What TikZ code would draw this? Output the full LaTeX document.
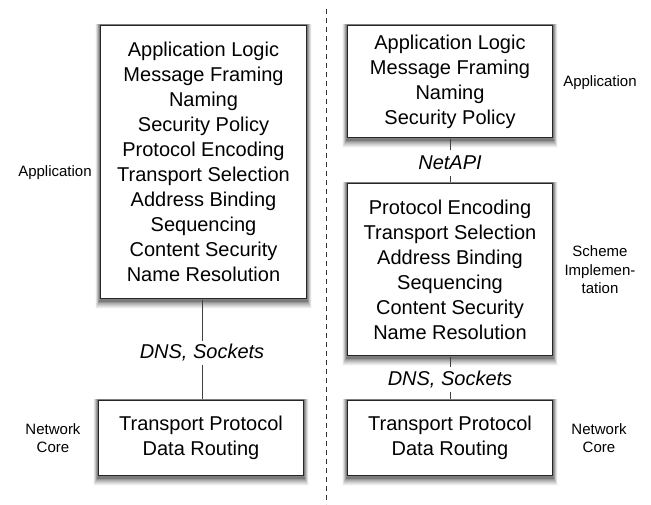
\documentclass[tikz,border=0pt]{standalone}
\usepackage{fontspec}
\setmainfont{Liberation Sans}
\usetikzlibrary{calc}

\tikzset{
  layerbox/.style={draw=black!85, line width=1.6pt, fill=white, align=center,
    inner sep=0pt, font=\fontsize{20}{25}\selectfont},
  sidelabel/.style={align=center, inner sep=0pt, font=\fontsize{15}{18.5}\selectfont},
  iface/.style={inner sep=0pt, minimum height=24pt, font=\fontsize{20}{24}\selectfont\itshape},
  link/.style={draw=black!75, line width=0.9pt},
  divider/.style={draw=black!80, line width=0.9pt, dash pattern=on 5pt off 4pt}
}

\begin{document}
\begin{tikzpicture}[x=1pt, y=-1pt]
  \useasboundingbox (0,0) rectangle (651,504);

  % vertical separator between the two stacks
  \coordinate (divtop) at (326,9);
  \coordinate (divbot) at (326,504);
  \path[divider] (divtop) -- (divbot);

  % left stack: monolithic application over the network core
  \node[layerbox, minimum width=207pt, minimum height=274pt] (lapp) at (203.5,162)
    {Application Logic\\Message Framing\\Naming\\Security Policy\\Protocol Encoding\\
     Transport Selection\\Address Binding\\Sequencing\\Content Security\\Name Resolution};
  \node[layerbox, minimum width=206pt, minimum height=76pt] (lcore) at (201,438)
    {Transport Protocol\\Data Routing};
  \node[iface] (ldns) at (202,353) {DNS, Sockets};

  \node[sidelabel] (lapplbl) at (55,173) {Application};
  \node[sidelabel] (lcorelbl) at (53,438) {Network\\Core};

  % right stack: application, scheme implementation, network core
  \node[layerbox, minimum width=206pt, minimum height=113pt] (rapp) at (450,81.5)
    {Application Logic\\Message Framing\\Naming\\Security Policy};
  \node[layerbox, minimum width=206pt, minimum height=173pt] (rscheme) at (450,269.5)
    {Protocol Encoding\\Transport Selection\\Address Binding\\Sequencing\\
     Content Security\\Name Resolution};
  \node[layerbox, minimum width=206pt, minimum height=76pt] (rcore) at (450,438)
    {Transport Protocol\\Data Routing};

  \node[iface, minimum height=26pt] (netapi) at (450,163) {NetAPI};
  \node[iface] (rdns) at (450,379.5) {DNS, Sockets};

  \node[sidelabel] (rapplbl) at (600,83) {Application};
  \node[sidelabel] (rschemelbl) at (600,270) {Scheme\\Implemen-\\tation};
  \node[sidelabel] (rcorelbl) at (599,438) {Network\\Core};

  % soft drop shadows: grey bands round the sides and bottom of each box,
  % kept outside its frame, lightest at the rim and darkest next to the box
  \foreach \n in {lapp,lcore,rapp,rscheme,rcore}{
    \foreach \k/\g in {8/6,7/10,6/15,5/21,4/28,3/35,2/43,1/52}{
      \fill[black!\g, even odd rule]
        ($(\n.north west)+(-0.5*\k+0.5,0)$) rectangle ($(\n.south east)+(0.5*\k-0.5,1+0.95*\k)$)
        (\n.north west) rectangle (\n.south east);
    }
  }

  % interfaces between the layers
  \path[link] (lapp.south -| ldns) -- (ldns.north);
  \path[link] (ldns.south) -- (ldns |- lcore.north);
  \path[link] (rapp.south) -- (netapi.north);
  \path[link] (netapi.south) -- (rscheme.north);
  \path[link] (rscheme.south) -- (rdns.north);
  \path[link] (rdns.south) -- (rcore.north);
\end{tikzpicture}
\end{document}
